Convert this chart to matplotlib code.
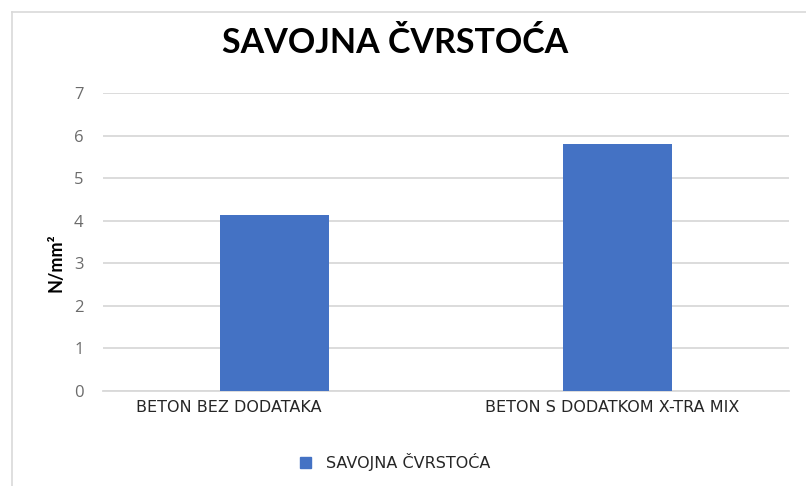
import matplotlib
matplotlib.use("Agg")
import matplotlib.pyplot as plt
from matplotlib.lines import Line2D
import numpy as np

categories = ["BETON BEZ DODATAKA", "BETON S DODATKOM X-TRA MIX"]
values = [4.13, 5.80]
series_name = "SAVOJNA ČVRSTOĆA"
yticks = [0, 1, 2, 3, 4, 5, 6, 7]

W, H = 806, 486
fig = plt.figure(figsize=(W / 100, H / 100), dpi=100)

# chart area border (only top and left visible)
bx, by = 12 / W, 1 - 12 / H
fig.add_artist(Line2D([bx, bx], [0, by], transform=fig.transFigure, color="#d9d9d9", lw=1.2))
fig.add_artist(Line2D([bx, 1], [by, by], transform=fig.transFigure, color="#d9d9d9", lw=1.2))

ax = fig.add_axes([103 / W, 1 - 391 / H, (789 - 103) / W, (391 - 93) / H])
x = np.arange(len(categories))
ax.bar(x, values, width=0.315, color="#4472c4", zorder=3, label=series_name)
ax.set_xlim(-0.5, 1.5)
ax.set_ylim(0, 7)
ax.set_yticks(yticks)
ax.set_yticklabels([str(t) for t in yticks], color="#6b6b6b", fontsize=12, family=["Open Sans", "DejaVu Sans"])
ax.tick_params(axis="y", length=0, pad=14)
ax.set_xticks([])
ax.yaxis.grid(True, color="#d9d9d9", lw=1.3, zorder=0)
for s in ["top", "right", "left"]:
    ax.spines[s].set_visible(False)
ax.spines["bottom"].set_color("#d9d9d9")
ax.spines["bottom"].set_linewidth(1.3)

# category labels
lab_x = [-0.133, 0.984]
for lx, c in zip(lab_x, categories):
    ax.text(lx, -0.2, c, ha="center", va="top", fontsize=11.5, color="#262626",
            family=["Liberation Sans Narrow", "DejaVu Sans"])

ax.set_ylabel("N/mm²", fontsize=13, fontweight="bold", family=["Lato", "DejaVu Sans"])
ax.yaxis.set_label_coords(-0.056, 0.43)

fig.text(395 / W, 1 - 43 / H, series_name, ha="center", va="center", fontsize=24.5,
         fontweight="bold", family=["Lato", "DejaVu Sans"], color="#000000")

leg = fig.legend(handles=[plt.Rectangle((0, 0), 1, 1, color="#4472c4")], labels=[series_name],
                 loc="center", bbox_to_anchor=(395 / W, 1 - 462 / H), frameon=False,
                 handlelength=0.7, handleheight=0.7, handletextpad=0.9,
                 prop={"family": ["Liberation Sans Narrow", "DejaVu Sans"], "size": 11.5})
for t in leg.get_texts():
    t.set_color("#262626")

fig.savefig("out.png", dpi=100)
